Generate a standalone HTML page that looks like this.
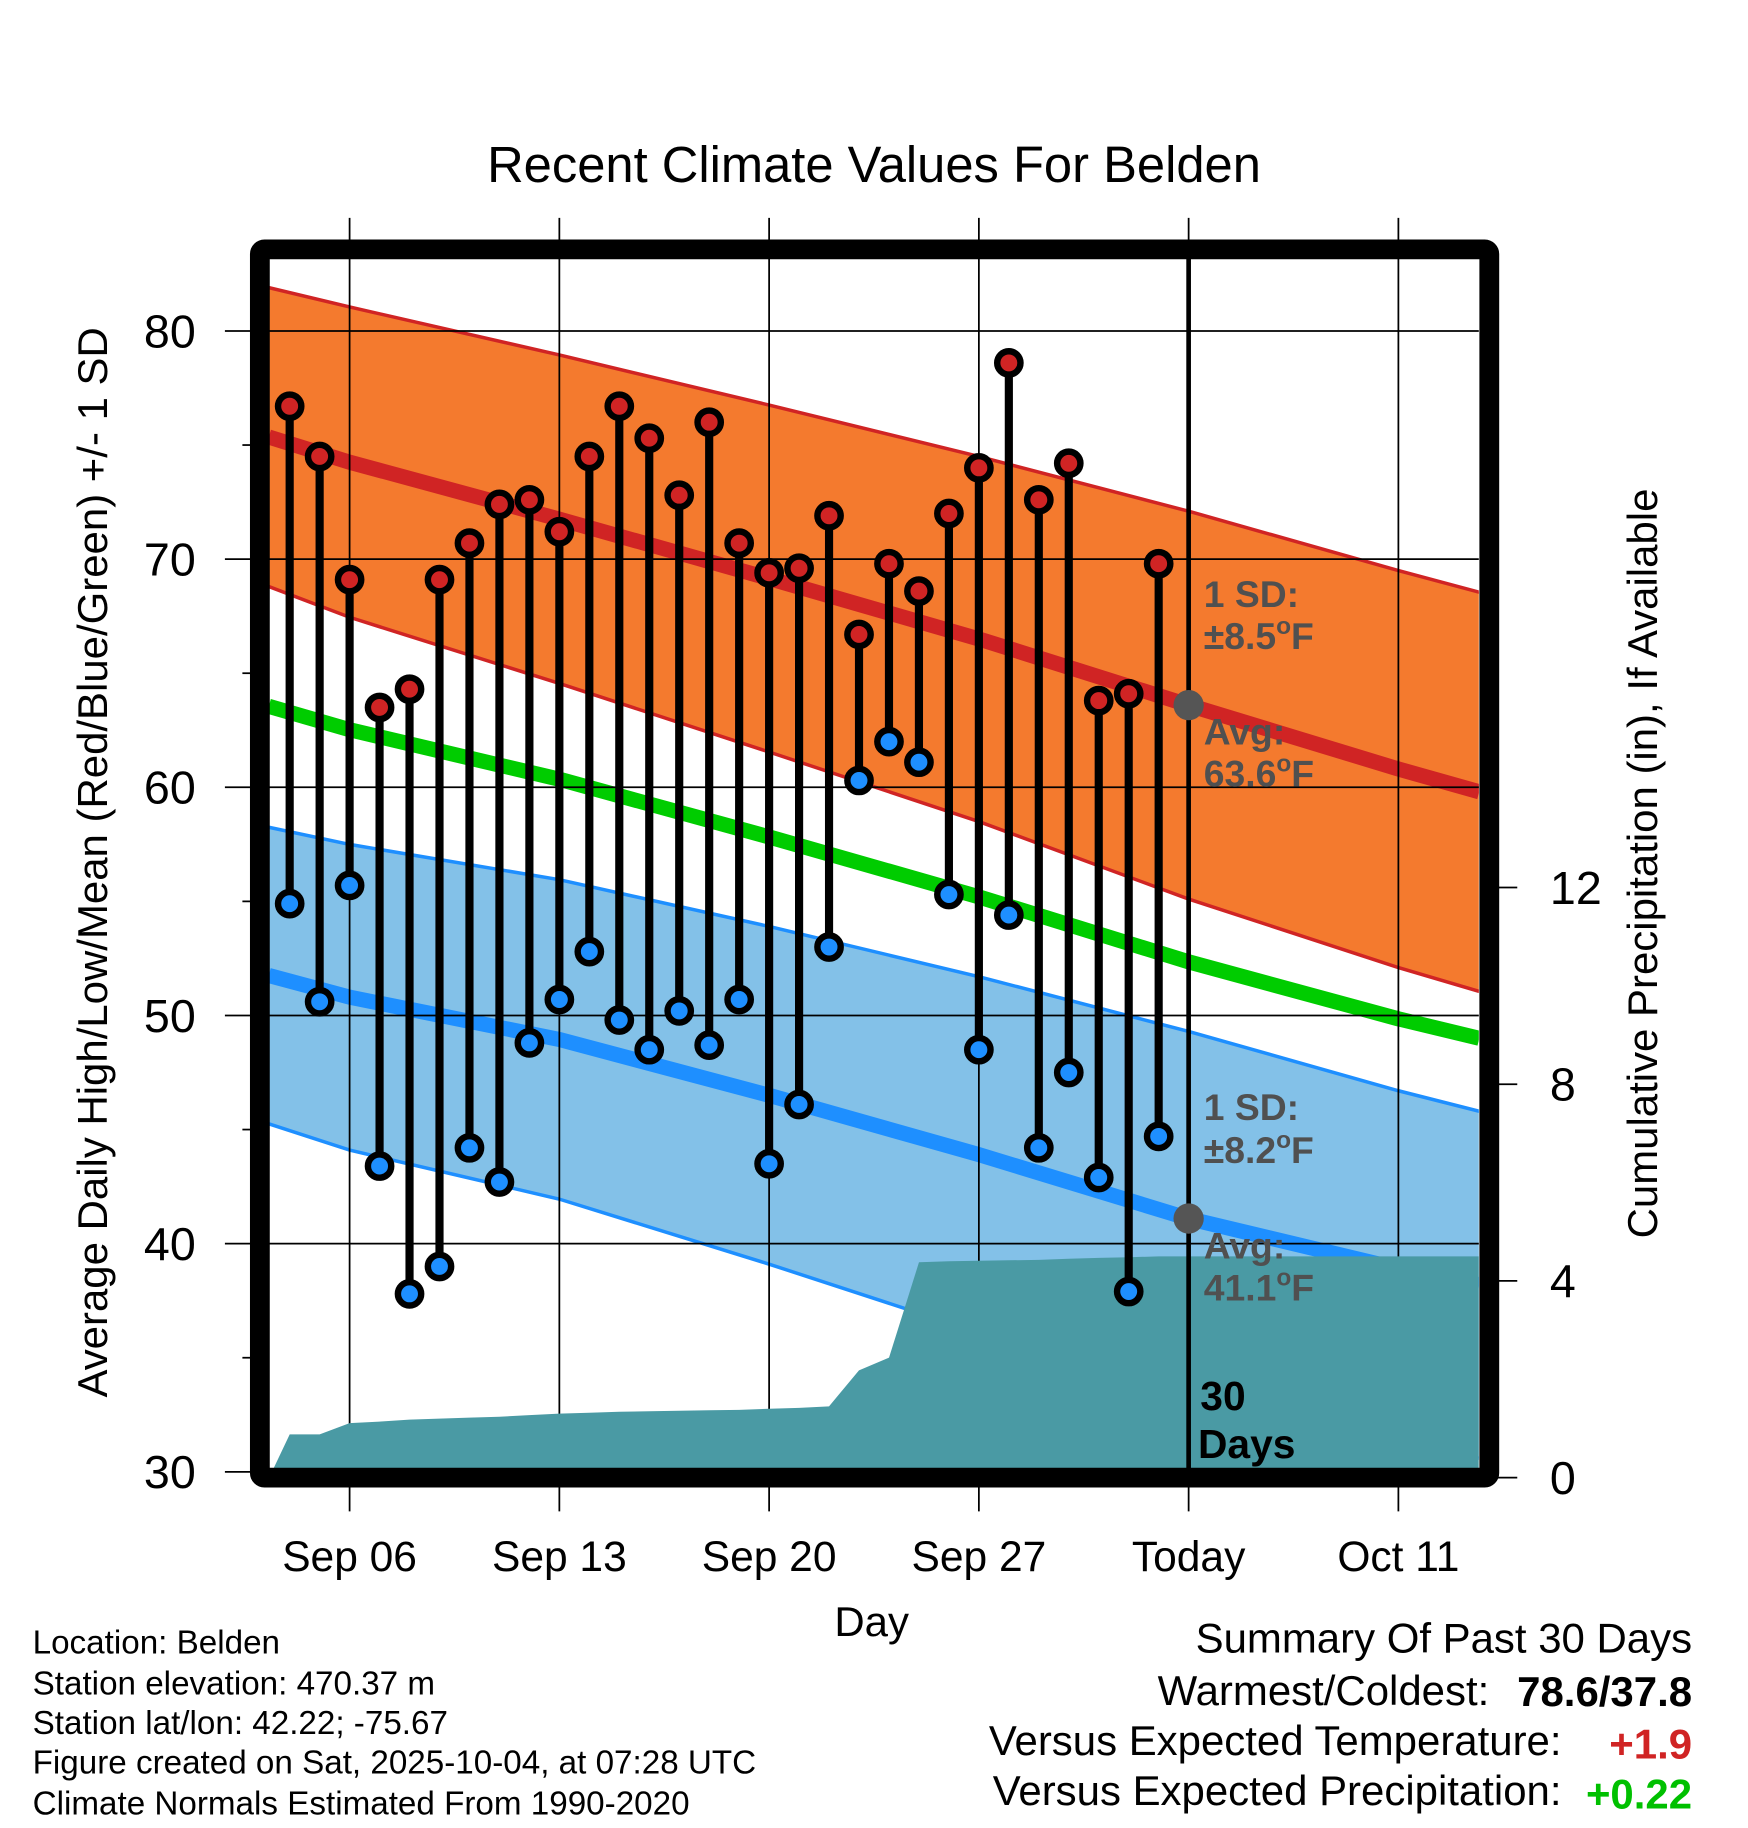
<!DOCTYPE html>
<html><head><meta charset="utf-8"><style>
html,body{margin:0;padding:0;background:#fff;}
svg{display:block;font-family:"Liberation Sans",Arial,sans-serif;}
</style></head><body>
<svg id="chart" width="1748" height="1828" viewBox="0 0 1500 1568.65" xmlns="http://www.w3.org/2000/svg">
<rect width="1500" height="1568.65" fill="#fff"/>
<text x="750" y="156" font-size="43.5" text-anchor="middle">Recent Climate Values For Belden</text>
<defs><clipPath id="plotclip"><rect x="231" y="222" width="1038" height="1038"/></clipPath></defs>
<g id="bands" clip-path="url(#plotclip)"></g>
<g id="grid"></g>
<g id="precip" clip-path="url(#plotclip)"></g>
<g id="stems"></g>
<g id="today"></g>
<rect x="223" y="214" width="1055" height="1054" fill="none" stroke="#000" stroke-width="17" rx="4"/>
<g id="axes"></g>
<g font-weight="bold" font-size="32" fill="#505050">
<text x="1033" y="521">1 SD:</text>
<text x="1033" y="557">±8.5<tspan font-size="21" dy="-13">o</tspan><tspan dy="13">F</tspan></text>
<text x="1033" y="639">Avg:</text>
<text x="1033" y="675">63.6<tspan font-size="21" dy="-13">o</tspan><tspan dy="13">F</tspan></text>
<text x="1033" y="961">1 SD:</text>
<text x="1033" y="998">±8.2<tspan font-size="21" dy="-13">o</tspan><tspan dy="13">F</tspan></text>
<text x="1033" y="1080">Avg:</text>
<text x="1033" y="1116">41.1<tspan font-size="21" dy="-13">o</tspan><tspan dy="13">F</tspan></text>
</g>
<g font-weight="bold" font-size="35" fill="#000">
<text x="1030" y="1210">30</text><text x="1028" y="1251">Days</text>
</g>
<text x="748" y="1404" font-size="36" text-anchor="middle">Day</text>
<text transform="translate(92,740) rotate(-90)" font-size="36" text-anchor="middle">Average Daily High/Low/Mean (Red/Blue/Green) +/- 1 SD</text>
<text transform="translate(1422,741) rotate(-90)" font-size="36" text-anchor="middle">Cumulative Precipitation (in), If Available</text>
<g font-size="28.5">
<text x="28" y="1419">Location: Belden</text>
<text x="28" y="1454">Station elevation: 470.37 m</text>
<text x="28" y="1488">Station lat/lon: 42.22; -75.67</text>
<text x="28" y="1522">Figure created on Sat, 2025-10-04, at 07:28 UTC</text>
<text x="28" y="1557">Climate Normals Estimated From 1990-2020</text>
</g>
<g font-size="36" text-anchor="end">
<text x="1452" y="1418">Summary Of Past 30 Days</text>
<text x="1278" y="1463">Warmest/Coldest:</text>
<text x="1452" y="1464" font-weight="bold">78.6/37.8</text>
<text x="1340" y="1506">Versus Expected Temperature:</text>
<text x="1452" y="1509" font-weight="bold" fill="#d02424">+1.9</text>
<text x="1340" y="1549">Versus Expected Precipitation:</text>
<text x="1452" y="1552" font-weight="bold" fill="#00c000">+0.22</text>
</g>
</svg>
<script>
// day index: Sep 1 = 1
const normDays = [3.3, 6, 13, 20, 27, 34, 41, 43.7];
const normHigh = [75.35, 74.25, 71.75, 69.15, 66.5, 63.6, 60.8, 59.8];
const normHighSD = [6.55, 6.8, 7.2, 7.6, 8.0, 8.5, 8.7, 8.75];
const normLow = [51.75, 50.8, 48.95, 46.5, 43.9, 41.1, 38.9, 38.2];
const normLowSD = [6.5, 6.7, 7.0, 7.4, 7.8, 8.2, 7.8, 7.6];
const obsDays = [4,5,6,7,8,9,10,11,12,13,14,15,16,17,18,19,20,21,22,23,24,25,26,27,28,29,30,31,32,33];
const obsHigh = [76.7,74.5,69.1,63.5,64.3,69.1,70.7,72.4,72.6,71.2,74.5,76.7,75.3,72.8,76.0,70.7,69.4,69.6,71.9,66.7,69.8,68.6,72.0,74.0,78.6,72.6,74.2,63.8,64.1,69.8];
const obsLow = [54.9,50.6,55.7,43.4,37.8,39.0,44.2,42.7,48.8,50.7,52.8,49.8,48.5,50.2,48.7,50.7,43.5,46.1,53.0,60.3,62.0,61.1,55.3,48.5,54.4,44.2,47.5,42.9,37.9,44.7];
const precip = [0.88,0.88,1.11,1.14,1.18,1.20,1.22,1.24,1.27,1.30,1.32,1.34,1.35,1.36,1.37,1.38,1.40,1.42,1.45,2.18,2.44,4.38,4.40,4.41,4.42,4.43,4.45,4.47,4.48,4.50];
const xTickDays = [6, 13, 20, 27, 34, 41];
const xTickLabels = ["Sep 06", "Sep 13", "Sep 20", "Sep 27", "Today", "Oct 11"];
const yTicks = [30, 40, 50, 60, 70, 80];
const yMinor = [35, 45, 55, 65, 75];
const y2Ticks = [0, 4, 8, 12];
const todayDay = 34;

const NS = "http://www.w3.org/2000/svg";
const X = d => 300 + (d - 6) * 25.714;
const Y = t => 1263 - (t - 30) * 19.58;
const Y2 = p => 1268 - p * 42.2;
const X0 = 231, X1 = 1269;
function mk(tag, attrs, parent) {
  const e = document.createElementNS(NS, tag);
  for (const k in attrs) e.setAttribute(k, attrs[k]);
  parent.appendChild(e);
  return e;
}
function pts(arr) { return arr.map(p => p[0].toFixed(1) + "," + p[1].toFixed(1)).join(" "); }
const bands = document.getElementById("bands");
function band(mean, sd, fill, edge, name) {
  const up = normDays.map((d, i) => [X(d), Y(mean[i] + sd[i])]);
  const lo = normDays.map((d, i) => [X(d), Y(mean[i] - sd[i])]);
  const p = mk("polygon", {points: pts(up.concat(lo.slice().reverse())), fill: fill}, bands);
  
  
  const l1 = mk("polyline", {points: pts(up), fill: "none", stroke: edge, "stroke-width": 3}, bands);
  
  
  const l2 = mk("polyline", {points: pts(lo), fill: "none", stroke: edge, "stroke-width": 3}, bands);
  
  
}
band(normLow, normLowSD, "#83c1e8", "#1e8fff", "low");
band(normHigh, normHighSD, "#f47a2e", "#d02424", "high");
function meanLine(vals, color, name) {
  const l = mk("polyline", {points: pts(normDays.map((d, i) => [X(d), Y(vals[i])])), fill: "none", stroke: color, "stroke-width": 13}, bands);
  
  
}
meanLine(normHigh, "#d02424", "high-mean-line");
meanLine(normLow, "#1e8fff", "low-mean-line");
meanLine(normHigh.map((h, i) => (h + normLow[i]) / 2), "#00cc00", "mean-line");

const grid = document.getElementById("grid");
xTickDays.forEach(d => {
  const g = mk("line", {x1: X(d), x2: X(d), y1: 187, y2: 1297, stroke: "#000", "stroke-width": 1.5}, grid);
  
  
});
yTicks.forEach(t => {
  const g = mk("line", {x1: 193, x2: X1, y1: Y(t), y2: Y(t), stroke: "#000", "stroke-width": 1.5}, grid);
  
  
});
yMinor.forEach(t => {
  const g = mk("line", {x1: 208, x2: 220, y1: Y(t), y2: Y(t), stroke: "#000", "stroke-width": 1.5}, grid);
  
  
});

const pg = document.getElementById("precip");
const pp = [[X0, Y2(0)]];
obsDays.forEach((d, i) => pp.push([X(d), Y2(precip[i])]));
pp.push([X1, Y2(precip[precip.length - 1])]);
pp.push([X1, Y2(0)]);
const area = mk("polygon", {points: pts(pp), fill: "#4a9aa4"}, pg);



const stems = document.getElementById("stems");
obsDays.forEach((d, i) => {
  const x = X(d);
  const s = mk("line", {x1: x, x2: x, y1: Y(obsHigh[i]), y2: Y(obsLow[i]), stroke: "#000", "stroke-width": 7}, stems);
  
  
  const h = mk("circle", {cx: x, cy: Y(obsHigh[i]), r: 10, fill: "#d02424", stroke: "#000", "stroke-width": 5.5}, stems);
  
  
  const l = mk("circle", {cx: x, cy: Y(obsLow[i]), r: 10, fill: "#1e8fff", stroke: "#000", "stroke-width": 5.5}, stems);
  
  
});

const tg = document.getElementById("today");
const tl = mk("line", {x1: X(todayDay), x2: X(todayDay), y1: 214, y2: 1268, stroke: "#000", "stroke-width": 4}, tg);


const d1 = mk("circle", {cx: X(todayDay), cy: Y(normHigh[5]), r: 13, fill: "#555"}, tg);


const d2 = mk("circle", {cx: X(todayDay), cy: Y(normLow[5]), r: 13, fill: "#555"}, tg);



const ax = document.getElementById("axes");
yTicks.forEach(t => {
  const e = mk("text", {x: 168, y: Y(t) + 14, "font-size": 40, "text-anchor": "end"}, ax);
  e.textContent = t;
  
  
});
y2Ticks.forEach(p => {
  const t = mk("line", {x1: 1278, x2: 1302, y1: Y2(p), y2: Y2(p), stroke: "#000", "stroke-width": 1.5}, ax);
  
  
  const e = mk("text", {x: 1330, y: Y2(p) + 14, "font-size": 40}, ax);
  e.textContent = p;
  
  
});
xTickDays.forEach((d, i) => {
  const e = mk("text", {x: X(d), y: 1348, "font-size": 36.5, "text-anchor": "middle"}, ax);
  e.textContent = xTickLabels[i];
  
  
});
</script>
</body></html>
